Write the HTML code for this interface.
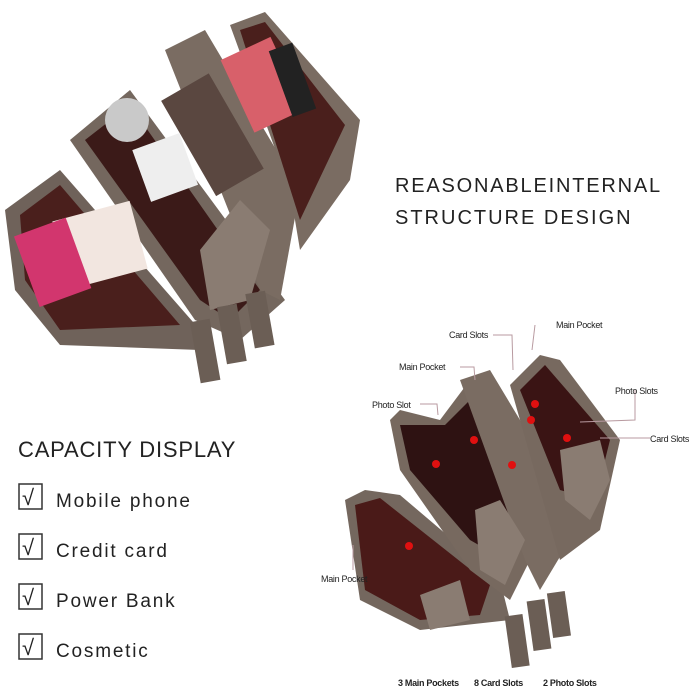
<!DOCTYPE html>
<html><head><style>
body{margin:0;background:#fff;}
svg{display:block}
text{font-family:"Liberation Sans",sans-serif;}
</style></head><body>
<svg width="700" height="700" viewBox="0 0 700 700">
<rect width="700" height="700" fill="#fff"/>
<g>
<polygon points="5,210 60,170 200,330 200,350 60,345 15,290" fill="#6f625a"/>
<polygon points="20,215 60,185 180,325 60,330 25,280" fill="#4a1f1c"/>
<polygon points="70,140 130,90 285,300 240,340 195,320" fill="#74675e"/>
<polygon points="85,140 130,105 260,290 230,320 200,300" fill="#3b1a18"/>
<polygon points="165,50 205,30 300,190 280,300 260,290" fill="#7a6c62"/>
<polygon points="230,25 265,12 360,120 350,180 300,250 290,190" fill="#7a6c62"/>
<polygon points="240,30 265,22 345,125 300,220" fill="#4a1f1c"/>
<rect x="235" y="45" width="55" height="80" fill="#d8606a" transform="rotate(-25 262 85)"/>
<rect x="280" y="45" width="25" height="70" fill="#222" transform="rotate(-20 292 80)"/>
<rect x="185" y="80" width="55" height="110" fill="#5a4740" transform="rotate(-30 212 135)"/>
<ellipse cx="127" cy="120" rx="22" ry="22" fill="#c9c9c9"/>
<rect x="140" y="140" width="50" height="55" fill="#eee" transform="rotate(-20 165 167)"/>
<rect x="60" y="210" width="80" height="70" fill="#f2e6e0" transform="rotate(-15 100 245)"/>
<rect x="25" y="225" width="55" height="75" fill="#d2366e" transform="rotate(-20 52 262)"/>
<polygon points="200,250 240,200 270,230 250,300 210,310" fill="#8a7c72"/>
<rect x="195" y="320" width="20" height="62" fill="#6b5e55" transform="rotate(-10 205 350)"/>
<rect x="222" y="305" width="20" height="58" fill="#6b5e55" transform="rotate(-10 232 335)"/>
<rect x="250" y="292" width="20" height="55" fill="#6b5e55" transform="rotate(-10 260 320)"/>
</g>
<text x="395" y="192" font-size="20" letter-spacing="1.8" fill="#222">REASONABLEINTERNAL</text>
<text x="395" y="224" font-size="20" letter-spacing="2" fill="#222">STRUCTURE DESIGN</text>
<text x="18" y="457" font-size="22" letter-spacing="0.8" fill="#222">CAPACITY DISPLAY</text>
<g font-size="19" fill="#222" letter-spacing="1.8">
<rect x="19" y="484" width="23" height="25" fill="none" stroke="#333" stroke-width="1.5"/><text x="22" y="505" font-size="22">√</text><text x="56" y="507">Mobile phone</text>
<rect x="19" y="534" width="23" height="25" fill="none" stroke="#333" stroke-width="1.5"/><text x="22" y="555" font-size="22">√</text><text x="56" y="557">Credit card</text>
<rect x="19" y="584" width="23" height="25" fill="none" stroke="#333" stroke-width="1.5"/><text x="22" y="605" font-size="22">√</text><text x="56" y="607">Power Bank</text>
<rect x="19" y="634" width="23" height="25" fill="none" stroke="#333" stroke-width="1.5"/><text x="22" y="655" font-size="22">√</text><text x="56" y="657">Cosmetic</text>
</g>
<g>
<polygon points="345,500 365,490 400,495 500,580 510,620 420,630 360,600" fill="#74675e"/>
<polygon points="355,505 380,498 490,585 480,615 420,620 365,590" fill="#4a1a18"/>
<polygon points="390,420 400,410 440,420 470,380 520,490 530,560 510,600 470,570 400,470" fill="#77695f"/>
<polygon points="400,425 445,425 475,395 515,500 505,560 470,540 410,470" fill="#2e1212"/>
<polygon points="460,380 490,370 550,470 570,540 540,590 525,560" fill="#7a6c62"/>
<polygon points="510,385 540,355 560,360 620,440 600,530 560,560" fill="#77695f"/>
<polygon points="520,390 545,365 610,440 595,500 560,490" fill="#3a1414"/>
<polygon points="475,510 500,500 525,540 505,585 480,570" fill="#8a7c72"/>
<polygon points="560,450 600,440 610,480 590,520 565,500" fill="#8a7c72"/>
<polygon points="420,595 460,580 470,620 430,630" fill="#8a7c72"/>
<rect x="508" y="615" width="18" height="52" fill="#6b5e55" transform="rotate(-8 517 640)"/>
<rect x="530" y="600" width="18" height="50" fill="#6b5e55" transform="rotate(-8 539 625)"/>
<rect x="550" y="592" width="18" height="45" fill="#6b5e55" transform="rotate(-8 559 615)"/>
<g fill="#e01010"><circle cx="409" cy="546" r="4"/><circle cx="436" cy="464" r="4"/><circle cx="474" cy="440" r="4"/><circle cx="512" cy="465" r="4"/><circle cx="535" cy="404" r="4"/><circle cx="531" cy="420" r="4"/><circle cx="567" cy="438" r="4"/></g>
</g>
<g stroke="#b89aa0" stroke-width="1" fill="none">
<polyline points="493,335 512,335 513,370"/>
<polyline points="535,325 532,350"/>
<polyline points="460,367 474,367 475,380"/>
<polyline points="420,404 437,404 438,415"/>
<polyline points="635,390 635,420 580,422"/>
<polyline points="650,438 600,438"/>
<polyline points="353,545 353,570"/>
</g>
<g font-size="9" fill="#222" letter-spacing="-0.3">
<text x="449" y="338">Card Slots</text>
<text x="556" y="328">Main Pocket</text>
<text x="399" y="370">Main Pocket</text>
<text x="372" y="408">Photo Slot</text>
<text x="615" y="394">Photo Slots</text>
<text x="650" y="442">Card Slots</text>
<text x="321" y="582">Main Pocket</text>
<text x="398" y="686" font-weight="bold">3 Main Pockets</text>
<text x="474" y="686" font-weight="bold">8 Card Slots</text>
<text x="543" y="686" font-weight="bold">2 Photo Slots</text>
</g>
</svg>
</body></html>
